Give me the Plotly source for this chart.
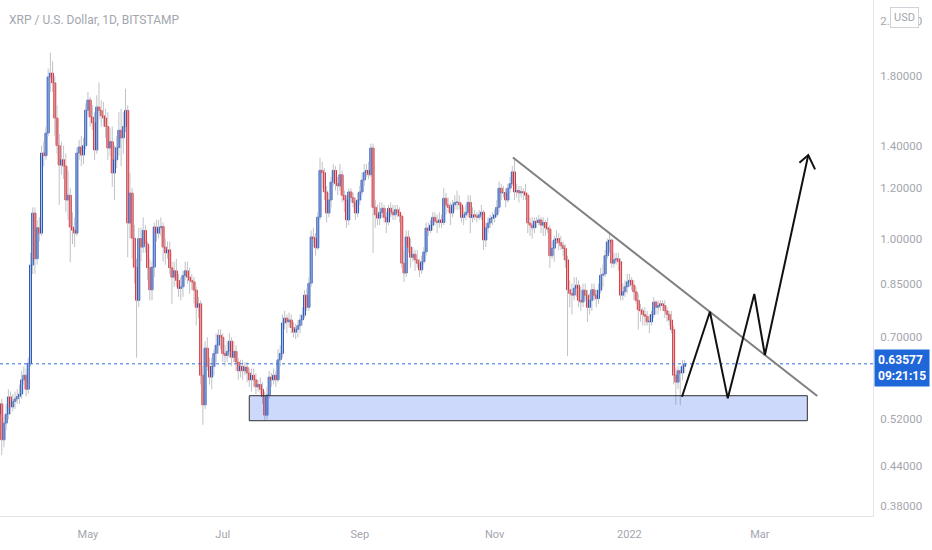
import numpy as np
import pandas as pd
import plotly.graph_objects as go

# ---------------- data ----------------
start_date = "2021-03-22"
first_open = 0.53

closes = [
    0.55, 0.483, 0.513, 0.53, 0.564, 0.544, 0.555, 0.56, 0.565, 0.57,
    0.60, 0.61, 0.58, 0.637, 0.909, 1.097, 0.93, 1.04, 1.02, 1.363,
    1.35, 1.465, 1.795, 1.82, 1.757, 1.547, 1.40, 1.305, 1.33, 1.30,
    1.15, 1.17, 1.043, 1.031, 1.02, 1.363, 1.393, 1.353, 1.40, 1.592,
    1.651, 1.553, 1.52, 1.378, 1.61, 1.59, 1.56, 1.547, 1.50, 1.388,
    1.42, 1.268, 1.33, 1.39, 1.48, 1.44, 1.50, 1.59, 1.058, 1.179,
    1.002, 0.902, 0.80, 1.00, 0.97, 1.03, 0.98, 0.90, 0.831, 0.902,
    1.043,
    1.02, 1.04, 1.045, 0.97, 0.95, 0.96, 0.90, 0.87, 0.89, 0.86,
    0.835, 0.84, 0.875, 0.89, 0.87, 0.86, 0.855, 0.83, 0.78, 0.79,
    0.61, 0.548, 0.673, 0.63, 0.606, 0.63, 0.66, 0.68, 0.705, 0.70,
    0.66, 0.655, 0.665, 0.69, 0.651, 0.665, 0.64, 0.62, 0.63, 0.62,
    0.628, 0.615, 0.60, 0.61, 0.60, 0.585, 0.59, 0.58, 0.565, 0.528,
    0.568, 0.606, 0.60, 0.61, 0.60, 0.645, 0.66, 0.737, 0.75, 0.74,
    0.745,
    0.725, 0.713, 0.72, 0.73, 0.745, 0.758, 0.815, 0.78, 0.851, 1.006,
    1.00, 0.967, 1.081, 1.28, 1.27, 1.184, 1.097, 1.15, 1.227, 1.28,
    1.22, 1.21, 1.26, 1.17, 1.15, 1.07, 1.184, 1.16, 1.14, 1.097,
    1.15,
    1.184, 1.236, 1.27, 1.28, 1.26, 1.388, 1.12, 1.09, 1.077, 1.10,
    1.116, 1.08, 1.062, 1.116, 1.10, 1.09, 1.11, 1.10, 1.085, 0.915,
    0.883, 1.006, 0.97, 0.935, 0.945, 0.926, 0.915, 0.893, 0.92, 0.953,
    1.039, 1.03, 1.05, 1.08, 1.065, 1.06, 1.07, 1.06, 1.157, 1.13,
    1.12, 1.097, 1.13, 1.14, 1.14, 1.13, 1.08, 1.09, 1.10, 1.14,
    1.08, 1.09, 1.085, 1.08, 1.09, 1.10, 0.995, 1.04, 1.058, 1.075,
    1.08,
    1.09, 1.12, 1.20, 1.18, 1.18, 1.15, 1.20, 1.22, 1.273, 1.184,
    1.19, 1.18, 1.185, 1.18, 1.17, 1.058, 1.05, 1.04, 1.065, 1.06,
    1.07, 1.05, 1.06, 1.04, 1.035, 0.94, 0.966, 0.995, 1.00, 0.985,
    0.975, 0.965, 0.926, 0.831, 0.82, 0.815, 0.836, 0.845, 0.80, 0.795,
    0.83, 0.815, 0.78, 0.80, 0.831, 0.815, 0.805, 0.83, 0.876, 0.88,
    0.94, 0.988, 0.995, 0.915, 0.926, 0.93, 0.92, 0.815, 0.825, 0.84,
    0.855,
    0.86, 0.845, 0.825, 0.80, 0.773, 0.77, 0.76, 0.755, 0.74, 0.74,
    0.76, 0.795, 0.78, 0.785, 0.79, 0.785, 0.77, 0.76, 0.745, 0.72,
    0.61, 0.595, 0.62, 0.615, 0.63, 0.63577,
]

highs = [
    0.57, 0.56, 0.525, 0.55, 0.58, 0.575, 0.57, 0.575, 0.58, 0.59,
    0.62, 0.63, 0.625, 0.65, 0.95, 1.12, 1.12, 1.07, 1.08, 1.40,
    1.42, 1.50, 1.85, 1.96, 1.90, 1.80, 1.62, 1.46, 1.42, 1.40,
    1.36, 1.28, 1.20, 1.10, 1.08, 1.39, 1.43, 1.45, 1.44, 1.63,
    1.70, 1.67, 1.62, 1.58, 1.68, 1.76, 1.65, 1.64, 1.60, 1.58,
    1.49, 1.50, 1.40, 1.45, 1.58, 1.60, 1.58, 1.72, 1.62, 1.27,
    1.20, 1.05, 0.93, 1.04, 1.04, 1.08, 1.05, 0.99, 0.93, 0.92,
    1.06,
    1.07, 1.07, 1.08, 1.06, 1.00, 0.99, 0.99, 0.92, 0.92, 0.93,
    0.88, 0.87, 0.89, 0.92, 0.92, 0.90, 0.88, 0.87, 0.84, 0.81,
    0.80, 0.63, 0.69, 0.70, 0.65, 0.65, 0.67, 0.71, 0.72, 0.72,
    0.71, 0.68, 0.69, 0.71, 0.70, 0.69, 0.68, 0.65, 0.645, 0.645,
    0.64, 0.64, 0.625, 0.625, 0.625, 0.615, 0.60, 0.605, 0.595, 0.575,
    0.585, 0.62, 0.615, 0.625, 0.62, 0.67, 0.68, 0.76, 0.77, 0.76,
    0.765,
    0.76, 0.74, 0.735, 0.745, 0.76, 0.78, 0.83, 0.835, 0.87, 1.03,
    1.04, 1.02, 1.10, 1.34, 1.32, 1.29, 1.21, 1.18, 1.25, 1.31,
    1.30, 1.25, 1.31, 1.28, 1.19, 1.17, 1.20, 1.20, 1.18, 1.16,
    1.18,
    1.21, 1.27, 1.31, 1.31, 1.32, 1.41, 1.41, 1.15, 1.13, 1.14,
    1.14, 1.13, 1.10, 1.13, 1.14, 1.13, 1.13, 1.13, 1.12, 1.09,
    0.96, 1.03, 1.03, 1.00, 0.97, 0.96, 0.96, 0.93, 0.94, 0.97,
    1.06, 1.06, 1.07, 1.10, 1.10, 1.09, 1.10, 1.09, 1.20, 1.18,
    1.16, 1.14, 1.15, 1.17, 1.19, 1.17, 1.14, 1.12, 1.13, 1.17,
    1.17, 1.12, 1.11, 1.10, 1.11, 1.13, 1.11, 1.06, 1.08, 1.09,
    1.10,
    1.11, 1.15, 1.23, 1.22, 1.21, 1.20, 1.22, 1.25, 1.30, 1.34,
    1.22, 1.21, 1.21, 1.20, 1.22, 1.18, 1.08, 1.08, 1.08, 1.08,
    1.09, 1.08, 1.08, 1.07, 1.08, 1.05, 0.99, 1.01, 1.03, 1.02,
    1.01, 0.99, 0.98, 0.94, 0.86, 0.85, 0.87, 0.87, 0.86, 0.84,
    0.85, 0.85, 0.83, 0.82, 0.85, 0.85, 0.83, 0.85, 0.90, 0.91,
    0.96, 1.00, 1.02, 1.00, 0.95, 0.95, 0.95, 0.93, 0.85, 0.86,
    0.88,
    0.88, 0.87, 0.86, 0.84, 0.82, 0.79, 0.78, 0.78, 0.77, 0.76,
    0.77, 0.81, 0.80, 0.80, 0.80, 0.80, 0.80, 0.78, 0.77, 0.77,
    0.73, 0.625, 0.63, 0.63, 0.645, 0.645,
]

lows = [
    0.52, 0.457, 0.47, 0.50, 0.52, 0.53, 0.535, 0.54, 0.55, 0.55,
    0.56, 0.59, 0.565, 0.57, 0.63, 0.88, 0.88, 0.91, 0.99, 1.01,
    1.30, 1.33, 1.45, 1.70, 1.70, 1.45, 1.36, 1.13, 1.26, 1.24,
    1.10, 1.07, 0.918, 0.98, 0.97, 1.01, 1.33, 1.30, 1.31, 1.38,
    1.56, 1.50, 1.48, 1.33, 1.36, 1.54, 1.50, 1.50, 1.44, 1.33,
    1.35, 1.205, 1.15, 1.29, 1.35, 1.30, 1.36, 1.47, 0.935, 1.00,
    0.93, 0.85, 0.65, 0.78, 0.92, 0.95, 0.95, 0.86, 0.80, 0.80,
    0.87,
    0.99, 1.00, 1.01, 0.92, 0.91, 0.93, 0.88, 0.79, 0.84, 0.84,
    0.81, 0.80, 0.81, 0.86, 0.85, 0.82, 0.83, 0.79, 0.73, 0.75,
    0.59, 0.51, 0.54, 0.62, 0.59, 0.58, 0.61, 0.64, 0.66, 0.67,
    0.64, 0.63, 0.64, 0.65, 0.63, 0.64, 0.62, 0.60, 0.605, 0.60,
    0.61, 0.595, 0.585, 0.575, 0.585, 0.57, 0.575, 0.57, 0.55, 0.518,
    0.52, 0.56, 0.585, 0.59, 0.585, 0.595, 0.63, 0.65, 0.72, 0.71,
    0.725,
    0.71, 0.70, 0.695, 0.70, 0.71, 0.73, 0.75, 0.77, 0.77, 0.84,
    0.97, 0.94, 0.96, 1.07, 1.20, 1.15, 1.06, 1.08, 1.12, 1.21,
    1.19, 1.17, 1.19, 1.14, 1.10, 1.04, 1.05, 1.14, 1.12, 1.07,
    1.08,
    1.13, 1.17, 1.21, 1.25, 1.24, 1.25, 0.95, 1.04, 1.05, 1.05,
    1.08, 1.06, 1.02, 1.05, 1.08, 1.07, 1.07, 1.08, 1.06, 0.90,
    0.855, 0.87, 0.95, 0.90, 0.92, 0.89, 0.90, 0.87, 0.88, 0.91,
    0.94, 1.01, 1.02, 1.03, 1.05, 1.02, 1.04, 1.04, 1.05, 1.09,
    1.10, 1.05, 1.08, 1.11, 1.11, 1.11, 1.06, 1.05, 1.07, 1.08,
    1.02, 1.06, 1.07, 1.06, 1.07, 1.07, 0.96, 0.97, 1.02, 1.04,
    1.05,
    1.06, 1.08, 1.10, 1.15, 1.16, 1.12, 1.14, 1.18, 1.21, 1.15,
    1.16, 1.14, 1.16, 1.15, 1.15, 1.02, 1.01, 1.00, 1.02, 1.04,
    1.05, 1.02, 1.01, 1.01, 1.02, 0.90, 0.93, 0.92, 0.98, 0.96,
    0.96, 0.94, 0.90, 0.654, 0.78, 0.76, 0.80, 0.81, 0.78, 0.77,
    0.78, 0.80, 0.74, 0.76, 0.77, 0.80, 0.78, 0.79, 0.82, 0.84,
    0.87, 0.93, 0.95, 0.90, 0.90, 0.91, 0.89, 0.80, 0.80, 0.81,
    0.82,
    0.84, 0.83, 0.80, 0.79, 0.72, 0.74, 0.73, 0.73, 0.73, 0.71,
    0.73, 0.75, 0.76, 0.76, 0.77, 0.77, 0.75, 0.74, 0.73, 0.71,
    0.59, 0.548, 0.58, 0.548, 0.60, 0.615,
]

y_tick_vals = [0.38, 0.44, 0.52, 0.70, 0.85, 1.0, 1.2, 1.4, 1.8, 2.2]
y_tick_text = ["0.38000", "0.44000", "0.52000", "0.70000", "0.85000",
               "1.00000", "1.20000", "1.40000", "1.80000", "2.20000"]
x_tick_vals = ["2021-05-01", "2021-07-01", "2021-09-01", "2021-11-01",
               "2022-01-01", "2022-03-01"]
x_tick_text = ["May", "Jul", "Sep", "Nov", "2022", "Mar"]

# drawings on the chart
zone_x = ["2021-07-13 00:00", "2022-03-22 12:00"]
zone_y = [0.5175, 0.5665]
trend_x = ["2021-11-09 07:00", "2022-03-27 00:00"]
trend_y = [1.341, 0.5658]
path_x = ["2022-01-24 19:00", "2022-02-06 10:00", "2022-02-14 12:00",
          "2022-02-26 12:00", "2022-03-03 07:00", "2022-03-22 22:00"]
path_y = [0.5644, 0.7676, 0.5611, 0.8184, 0.6563, 1.353]
arrow_x = ["2022-03-18 22:00", "2022-03-22 22:00", "2022-03-26 00:00"]
arrow_y = [1.316, 1.353, 1.285]

x_range = ["2021-03-22 05:00", "2022-04-21 05:00"]
y_range = [0.3666, 2.371]

title_text = "XRP / U.S. Dollar, 1D, BITSTAMP"
countdown = "09:21:15"

# ---------------- build ----------------
assert len(closes) == len(highs) == len(lows) == 311
dates = pd.date_range(start_date, periods=len(closes), freq="D")
opens = [first_open] + closes[:-1]

UP = "#1a4fc4"
DOWN = "#e3262c"
WICK = "#c0c2c8"

wx, wy = [], []
for d, h, l in zip(dates, highs, lows):
    wx += [d, d, None]
    wy += [l, h, None]

body_base = [min(o, c) for o, c in zip(opens, closes)]
body_len = [max(abs(c - o), 0.002) for o, c in zip(opens, closes)]
body_col = [UP if c >= o else DOWN for o, c in zip(opens, closes)]

fig = go.Figure()
fig.add_trace(go.Scatter(x=wx, y=wy, mode="lines",
                         line=dict(color=WICK, width=1),
                         hoverinfo="skip", showlegend=False))
fig.add_trace(go.Bar(x=dates, y=body_len, base=body_base,
                     width=0.9 * 86400000,
                     marker=dict(color=body_col, line=dict(color=body_col, width=0.9)),
                     hoverinfo="skip", showlegend=False))

# last price dotted line
fig.add_trace(go.Scatter(x=[x_range[0], x_range[1]], y=[closes[-1], closes[-1]],
                         mode="lines", line=dict(color="#2f6fe0", width=1, dash="dot"),
                         hoverinfo="skip", showlegend=False))

# demand zone
fig.add_trace(go.Scatter(
    x=[zone_x[0], zone_x[1], zone_x[1], zone_x[0], zone_x[0]],
    y=[zone_y[0], zone_y[0], zone_y[1], zone_y[1], zone_y[0]],
    mode="lines", fill="toself", fillcolor="rgba(41,98,240,0.24)",
    line=dict(color="#2f2f2f", width=1), hoverinfo="skip", showlegend=False))

# trend line
fig.add_trace(go.Scatter(x=trend_x, y=trend_y, mode="lines",
                         line=dict(color="#7f7f7f", width=2),
                         hoverinfo="skip", showlegend=False))
# projected path
fig.add_trace(go.Scatter(x=path_x, y=path_y, mode="lines",
                         line=dict(color="#111111", width=2),
                         hoverinfo="skip", showlegend=False))
fig.add_trace(go.Scatter(x=arrow_x, y=arrow_y, mode="lines",
                         line=dict(color="#111111", width=2),
                         hoverinfo="skip", showlegend=False))

fig.update_layout(
    width=932, height=550,
    margin=dict(l=0, r=59, t=0, b=34),
    paper_bgcolor="white", plot_bgcolor="white",
    showlegend=False, hovermode=False, bargap=0,
    font=dict(family="Roboto, Noto Sans, sans-serif", color="#a3a6ae"),
    xaxis=dict(type="date", range=x_range, tickvals=x_tick_vals, ticktext=x_tick_text,
               showgrid=False, zeroline=False, showline=True, linecolor="#e3e5ea",
               ticks="", ticklabelstandoff=8, tickfont=dict(size=11, color="#a3a6ae"),
               rangeslider=dict(visible=False), fixedrange=True),
    yaxis=dict(type="log", side="right", range=[np.log10(y_range[0]), np.log10(y_range[1])],
               tickvals=y_tick_vals, ticktext=y_tick_text,
               showgrid=False, zeroline=False, showline=True, linecolor="#e3e5ea",
               ticks="", ticklabelstandoff=4, tickfont=dict(size=11.5, color="#a3a6ae"),
               fixedrange=True),
)

fig.add_annotation(xref="paper", yref="paper", x=0, y=1, xanchor="left", yanchor="top",
                   xshift=7, yshift=-11, text=title_text, showarrow=False,
                   font=dict(size=12, color="#a3a6ae"))

fig.add_annotation(xref="paper", yref="y", x=1, y=np.log10(closes[-1]),
                   xanchor="left", yanchor="middle", yshift=-4, xshift=1,
                   text=f"<b>{closes[-1]:.5f}</b><br><b>{countdown}</b>", showarrow=False,
                   align="left", bgcolor="#1f66d8", borderpad=3,
                   font=dict(size=12, color="white"))

fig.add_annotation(xref="paper", yref="paper", x=1, y=1, xanchor="left", yanchor="top",
                   xshift=17, yshift=-7, text="USD", showarrow=False,
                   bgcolor="white", bordercolor="#cfd2d9", borderwidth=1, borderpad=3,
                   font=dict(size=11, color="#a3a6ae"))

fig.write_html("out.html", config={"displayModeBar": False, "staticPlot": True})

# remove the browser's default page margin so the figure sits at the window origin
with open("out.html", "r", encoding="utf-8") as f:
    html = f.read()
html = html.replace("<head>", "<head><style>html,body{margin:0;padding:0;overflow:hidden;}</style>", 1)
with open("out.html", "w", encoding="utf-8") as f:
    f.write(html)
